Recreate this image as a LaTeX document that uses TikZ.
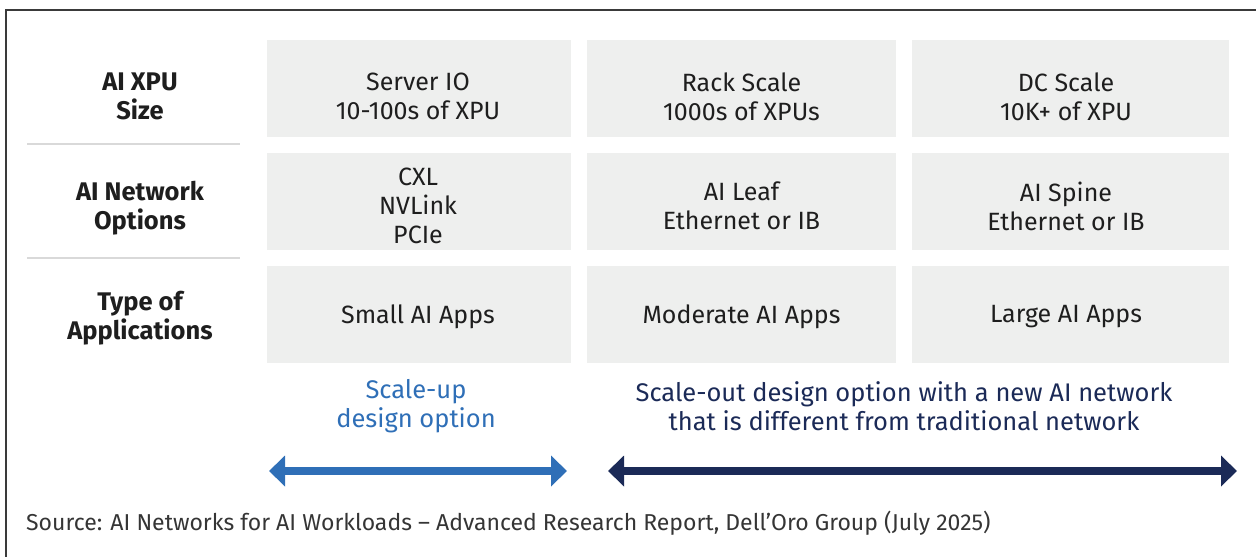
\documentclass[tikz,border=0pt]{standalone}
\usepackage{fontspec}
\setmainfont{Fira Sans}
\usetikzlibrary{arrows.meta}
\definecolor{cellgray}{HTML}{EEEFEE}
\definecolor{sepgray}{HTML}{D9D9D9}
\definecolor{ink}{HTML}{1E1E1E}
\definecolor{upblue}{HTML}{2F6FB7}
\definecolor{navy}{HTML}{1B2A57}
\definecolor{framegray}{HTML}{3A3A3A}
\tikzset{
  cellbox/.style={fill=cellgray, draw=none, minimum height=97pt, inner sep=0pt},
  celltext/.style={align=center, text=ink, inner sep=0pt, font=\fontsize{25}{29}\selectfont},
  rowhead/.style={align=center, text=ink, inner sep=0pt, font=\fontsize{25.5}{29}\selectfont\bfseries},
  sep/.style={draw=sepgray, line width=1.2pt},
  bigarrow/.style={line width=8pt, {Triangle[width=30pt,length=16pt]}-{Triangle[width=30pt,length=16pt]}},
  note/.style={align=center, inner sep=0pt, font=\fontsize{25.5}{29}\selectfont},
}
\begin{document}
\begin{tikzpicture}[x=1pt,y=-1pt]
\useasboundingbox (0,0) rectangle (1256,557);
% open frame along top and left edges
\draw[framegray, line width=1.3pt] (6,557) -- (6,10) -- (1256,10);

% row headings
\node[rowhead] (h1) at (140,96.5) {AI XPU\\Size};
\node[rowhead] (h2) at (140,208) {AI Network\\Options};
\node[rowhead] (h3) at (140,318) {Type of\\Applications};
\draw[sep] (27,144) -- (240,144);
\draw[sep] (27,258) -- (240,258);

% grid cells
\node[cellbox, minimum width=304pt] (c11) at (419,88) {};
\node[cellbox, minimum width=304pt] (c21) at (419,201.5) {};
\node[cellbox, minimum width=304pt] (c31) at (419,314.5) {};
\node[cellbox, minimum width=309pt] (c12) at (741.5,88) {};
\node[cellbox, minimum width=309pt] (c22) at (741.5,201.5) {};
\node[cellbox, minimum width=309pt] (c32) at (741.5,314.5) {};
\node[cellbox, minimum width=317pt] (c13) at (1070.5,88) {};
\node[cellbox, minimum width=317pt] (c23) at (1070.5,201.5) {};
\node[cellbox, minimum width=317pt] (c33) at (1070.5,314.5) {};

% cell texts
\node[celltext] (t11) at (418,96.5) {Server IO\\10-100s of XPU};
\node[celltext] (t21) at (418,206) {CXL\\NVLink\\PCIe};
\node[celltext] (t31) at (418,317) {Small AI Apps};
\node[celltext] (t12) at (741.5,96.5) {Rack Scale\\1000s of XPUs};
\node[celltext] (t22) at (741.5,206) {AI Leaf\\Ethernet or IB};
\node[celltext] (t32) at (741.5,317) {Moderate AI Apps};
\node[celltext] (t13) at (1066,96.5) {DC Scale\\10K+ of XPU};
\node[celltext] (t23) at (1066,206) {AI Spine\\Ethernet or IB};
\node[celltext] (t33) at (1066,317) {Large AI Apps};

% design options
\node[note, text=upblue] (up) at (416,406.5) {Scale-up\\design option};
\node[note, text=navy] (out) at (904,406.5) {Scale-out design option with a new AI network\\that is different from traditional network};

\coordinate (upL) at (269,471);
\coordinate (upR) at (567,471);
\coordinate (outL) at (608,471);
\coordinate (outR) at (1237,471);
\draw[bigarrow, upblue] (upL) -- (upR);
\draw[bigarrow, navy] (outL) -- (outR);

\node[anchor=west, inner sep=0pt, text=ink!90, font=\fontsize{23}{26}\selectfont] (src) at (26,523)
  {Source: AI Networks for AI Workloads -- Advanced Research Report, Dell'Oro Group (July 2025)};
\end{tikzpicture}
\end{document}
